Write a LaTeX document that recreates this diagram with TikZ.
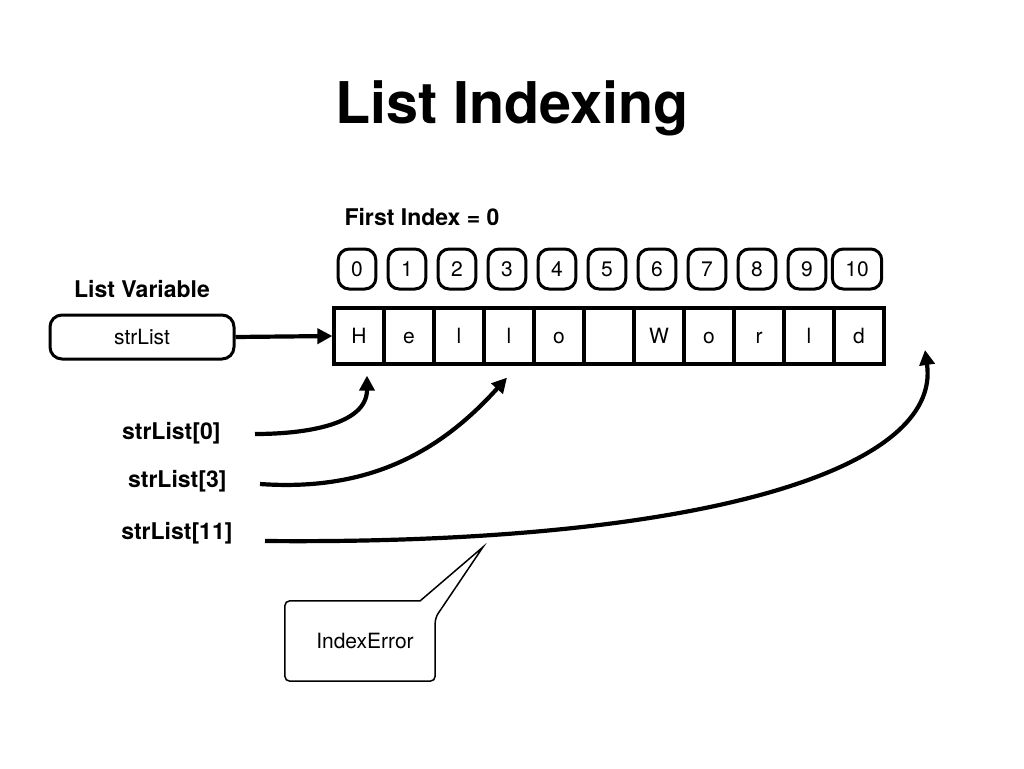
\documentclass[tikz,border=0pt]{standalone}
\usepackage{fontspec}
\setmainfont{TeX Gyre Heros}
\usetikzlibrary{arrows.meta}

\begin{document}
\begin{tikzpicture}[x=1pt, y=-1pt,
  idxbox/.style={draw, line width=3pt, rounded corners=11pt, minimum width=36pt, minimum height=40pt, inner xsep=13pt, inner ysep=0pt, text height=15pt, text depth=0pt, font=\fontsize{21}{24}\selectfont},
  cell/.style={draw, line width=3.2pt, minimum width=50pt, minimum height=56pt, inner sep=0pt, text height=15pt, text depth=0pt, font=\fontsize{21}{24}\selectfont},
  lbl/.style={font=\bfseries\fontsize{23}{26}\selectfont},
  ptr/.style={line width=4.2pt, -{Triangle[length=15pt,width=15pt]}}]

\useasboundingbox (0,0) rectangle (1024,768);

\node[font=\bfseries\fontsize{57.5}{64}\selectfont] (title) at (512,108) {List Indexing};
\node[lbl, anchor=west] (first) at (341,217) {First Index = 0};

% the list cells and their indices
\foreach \c [count=\i from 0] in {H,e,l,l,o,{},W,o,r,l,d} {
  \node[cell] (c\i) at (359+50*\i,336) {\c};
  \node[idxbox] (i\i) at (357+50*\i,269) {\i};
}

\node[lbl] (varlabel) at (142,289) {List Variable};
\node[draw, line width=3pt, rounded corners=12pt, minimum width=184pt, minimum height=44pt,
  font=\fontsize{21}{24}\selectfont] (var) at (142,337) {strList};
\draw[ptr] (var.east) -- (c0.west);

\node[lbl, anchor=east] (s0) at (224,433) {strList[0]};
\node[lbl, anchor=east] (s3) at (230,481) {strList[3]};
\node[lbl, anchor=east] (s11) at (236,533) {strList[11]};
\coordinate (miss) at (925,350);

\draw[ptr] ([xshift=31pt,yshift=-1pt]s0.east) to[out=0, in=-90] ([xshift=8pt,yshift=-10pt]c0.south);
\draw[ptr] ([xshift=30pt,yshift=-3pt]s3.east) to[out=-4, in=-132] ([xshift=-2pt,yshift=-12pt]c3.south);
\draw[ptr] ([xshift=29pt,yshift=-8pt]s11.east) .. controls (700,545) and (942,470) .. (miss);

% error callout
\coordinate (tip) at (483,547);
\node[font=\fontsize{21}{24}\selectfont, minimum width=150pt, minimum height=80pt] (err) at (360,641) {\hspace{10pt}IndexError};
\draw[line width=1.5pt, rounded corners=5pt] ([xshift=-15pt]err.north east) -- (err.north west) -- (err.south west)
  -- (err.south east) -- ([yshift=-17pt]err.north east) [sharp corners] -- (tip) -- cycle;
\end{tikzpicture}
\end{document}
